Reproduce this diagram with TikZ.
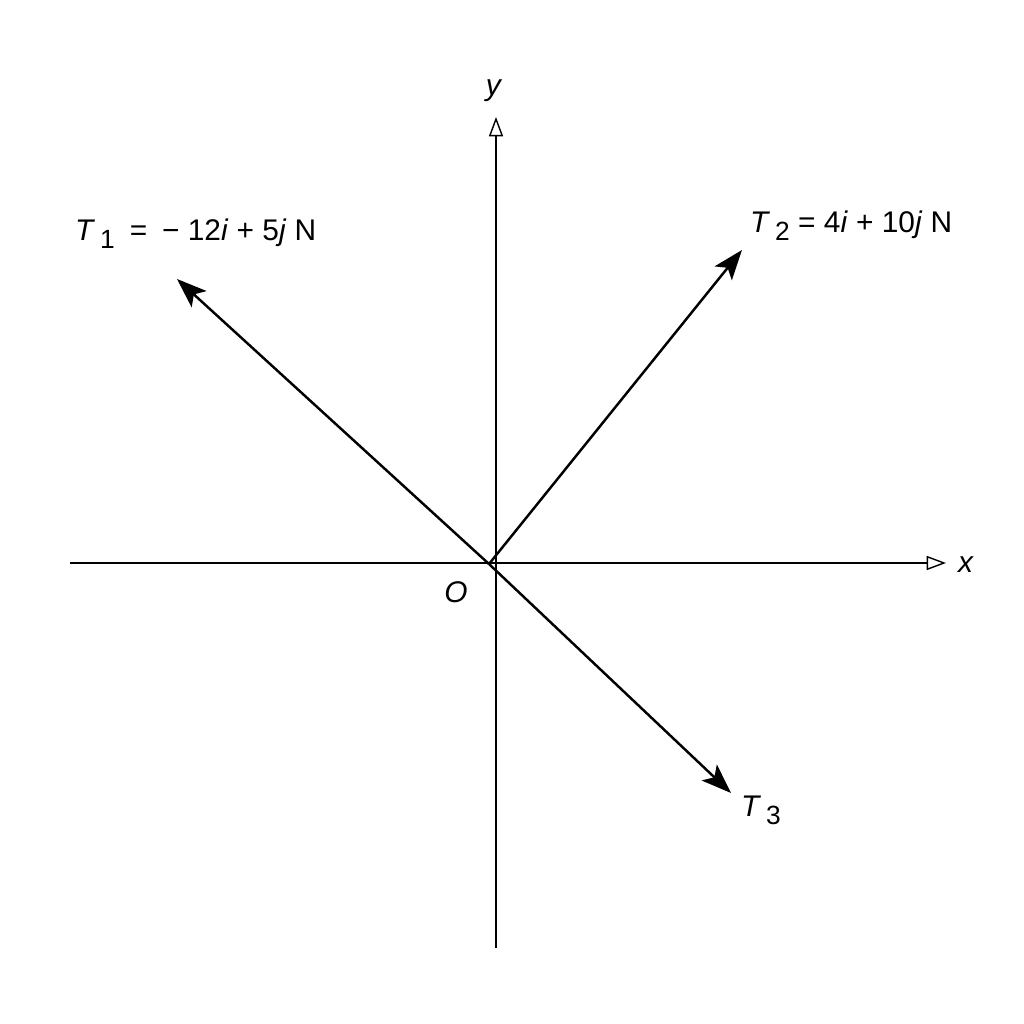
\documentclass[tikz,border=0pt]{standalone}
\usepackage{fontspec}
\setmainfont{Liberation Sans}
\usetikzlibrary{arrows.meta}
\newcommand{\lowsub}[1]{\,\raisebox{-0.5ex}{\fontsize{15}{16}\selectfont #1}}
\tikzset{axisline/.style={line width=0.8pt,-{Triangle[open,length=11pt,width=8pt]}},
force/.style={line width=1.4pt,-{Stealth[length=17pt,width=12.5pt,inset=4pt]}},
every node/.style={font=\fontsize{17}{20}\selectfont}}

\begin{document}
\begin{tikzpicture}[x=0.02cm,y=-0.02cm]
\fill[white] (0,0) rectangle (1024,1024);
\useasboundingbox (0,0) rectangle (1024,1024);
% axes
\coordinate (xl) at (70,563);
\coordinate (xr) at (946,563);
\coordinate (yb) at (496,948);
\coordinate (yt) at (496,117);
\draw[axisline] (xl) -- (xr);
\draw[axisline] (yb) -- (yt);
\node (xlab) at (966,565) {\textit{x}};
\node (ylab) at (494,91) {\textit{y}};
\node (olab) at (456,592) {\textit{O}};
% forces
\coordinate (O) at (489,564);
\coordinate (t1) at (177,279);
\coordinate (t2) at (742,250);
\coordinate (t3) at (731,793);
\draw[force] (O) -- (t1);
\draw[force] (O) -- (t2);
\draw[force] (O) -- (t3);
\node[anchor=west] (t1lab) at (69,234) {\textit{T}\lowsub{1}\enspace=\enspace− 12\textit{i} + 5\textit{j} N};
\node[anchor=west] (t2lab) at (744,226) {\textit{T}\lowsub{2} = 4\textit{i} + 10\textit{j} N};
\node (t3lab) at (761,810) {\textit{T}\lowsub{3}};
\end{tikzpicture}
\end{document}
